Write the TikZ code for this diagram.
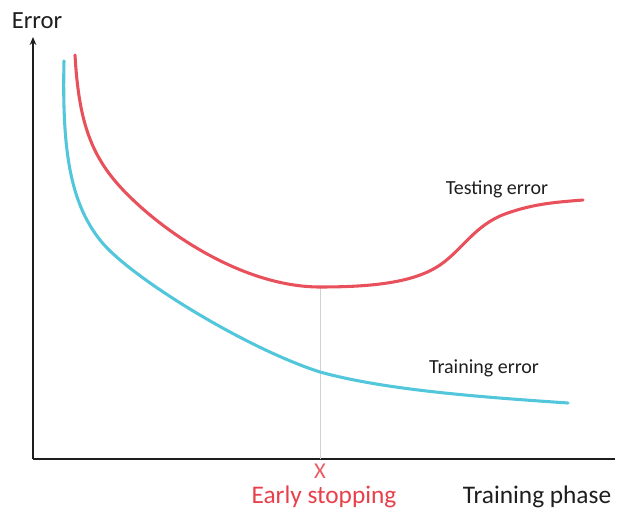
\documentclass[tikz,border=0pt]{standalone}
\usepackage{fontspec}
\setmainfont{Carlito}
\usetikzlibrary{arrows.meta}
\definecolor{testred}{HTML}{E8505B}
\definecolor{traincyan}{HTML}{52C6DB}
\definecolor{labelred}{HTML}{E8404A}
\definecolor{inkgray}{HTML}{1E1E1E}
\tikzset{
  axisline/.style={line width=1.5pt, draw=inkgray},
  curve/.style={line width=2.3pt, line cap=round, line join=round},
  lbl/.style={inner sep=0pt, text=inkgray},
}
\begin{document}
\begin{tikzpicture}[x=0.75pt,y=-0.75pt]
\useasboundingbox (0,0) rectangle (627,516);
% axes
\coordinate (O) at (33,459);
\coordinate (Ytop) at (33,37);
\coordinate (Xend) at (615,459);
\draw[axisline,-{Stealth[length=6pt,width=5pt]}] (O) -- (Ytop);
\draw[axisline] (O) -- (Xend);
% early stopping guide
\coordinate (Min) at (320,287);
\coordinate (MinFoot) at (320,459);
\draw[black!18, line width=0.6pt] (Min) -- (MinFoot);
% testing error curve
\draw[curve, testred] (75,55)
  .. controls (79,125) and (92,160) .. (130,197)
  .. controls (175,241) and (250,287) .. (Min)
  .. controls (375,287) and (415,282) .. (440,265)
  .. controls (462,250) and (475,225) .. (505,214)
  .. controls (535,203) and (560,202) .. (583,200);
% training error curve
\draw[curve, traincyan] (64,61)
  .. controls (62,150) and (70,202) .. (100,240)
  .. controls (128,276) and (245,348) .. (320,372)
  .. controls (385,390) and (480,397) .. (568,403);
% labels
\node[lbl, font=\fontsize{18.5pt}{20pt}\selectfont] (err) at (37,21) {Error};
\node[lbl, font=\fontsize{15pt}{17pt}\selectfont] (testlbl) at (497,189) {Testing error};
\node[lbl, font=\fontsize{15pt}{17pt}\selectfont] (trainlbl) at (484,368) {Training error};
\node[inner sep=0pt, text=labelred!85, font=\fontsize{17pt}{19pt}\selectfont] (xmark) at (320,471) {X};
\node[inner sep=0pt, text=labelred, font=\fontsize{19pt}{21pt}\selectfont] (early) at (324,497) {Early stopping};
\node[lbl, font=\fontsize{19pt}{21pt}\selectfont] (phase) at (537,497) {Training phase};
\end{tikzpicture}
\end{document}
